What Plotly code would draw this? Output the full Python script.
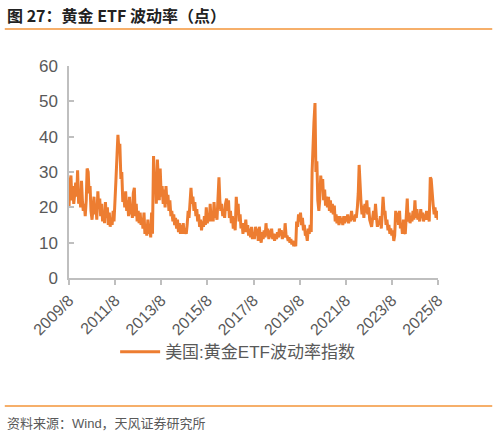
import pandas as pd
import plotly.graph_objects as go

# ── 数据：美国黄金ETF波动率指数（半月度，按图读取）──
dates = pd.date_range("2009-08-01", "2025-08-01", freq="SMS")

gvz = [
    # 2009/8 - 2010/7
    20, 27, 29, 22, 26, 21, 24, 27, 23, 30.5, 21, 25, 20, 27.5, 22, 19, 21, 17.5, 22, 31, 30, 24, 26, 19,
    # 2010/8 - 2011/7
    16.5, 20, 23, 18, 21, 16.5, 24.5, 20, 22.5, 17.5, 21, 16, 19, 15.5, 21.5, 17, 20, 15, 18.5, 14.5, 17, 15, 19, 16,
    # 2011/8 - 2012/7
    21, 28, 35, 40.5, 36, 38, 28, 30, 21.5, 24, 20, 24.5, 19, 22, 17.5, 23, 18, 20, 17, 24, 25.5, 17.5, 21, 16,
    # 2012/8 - 2013/7
    19, 15.5, 18.5, 15, 17, 14, 18.5, 12.5, 15, 12, 16.5, 12.5, 14.5, 11.5, 18.5, 12.5, 34.5, 27, 30, 21, 33.5, 27, 22, 31,
    # 2013/8 - 2014/7
    23, 26, 21, 25, 20, 26, 21, 23.5, 19, 22, 17.5, 19, 16, 18, 15, 17, 14, 16.5, 13, 15.5, 12.5, 15, 12.5, 15.5,
    # 2014/8 - 2015/7
    12.5, 14, 12.5, 15, 19, 17, 22, 25.5, 21, 23, 19, 21.5, 17.5, 19.5, 16, 18, 14.5, 16.5, 13.5, 16, 14.5, 17.5, 15, 20,
    # 2015/8 - 2016/7
    15.5, 18, 16, 21, 16, 19, 16, 21.5, 17, 19, 16.5, 22, 28.5, 22, 19, 21, 17.5, 19.5, 17, 21, 22.5, 19, 22, 17,
    # 2016/8 - 2017/7
    19, 15.5, 17.5, 14, 16, 13.5, 23, 19, 21, 16, 18, 14, 15.5, 12.5, 15.5, 13, 16.5, 13, 15, 12, 14, 11.5, 14.5, 11,
    # 2017/8 - 2018/7
    13, 11, 14.5, 12, 14, 10.5, 14.5, 12, 10, 13, 11, 13.5, 11.5, 15.5, 12, 14, 11, 13.5, 11.5, 14, 11, 12.5, 10.5, 12.5,
    # 2018/8 - 2019/7
    11, 13, 11.5, 14, 12, 13.5, 11, 13, 11.5, 15.5, 11.5, 12, 10.5, 11.5, 10, 11, 9.5, 10.5, 9, 10, 9, 16, 14.5, 18,
    # 2019/8 - 2020/7
    16, 18.5, 15, 17, 13.5, 15, 12, 12.5, 10.5, 14, 12.5, 15, 13, 30, 40, 44, 49.5, 30, 33, 22, 19, 22, 29, 26,
    # 2020/8 - 2021/7
    28, 22, 25, 20.5, 23, 20, 23, 19, 22, 18.5, 21, 18, 20.5, 16, 18, 15.5, 17.5, 15, 17.5, 15.5, 17, 15, 17.5, 15.5,
    # 2021/8 - 2022/7
    17.5, 16, 18, 15.5, 17, 16, 19, 16.5, 17.5, 16, 18, 17, 20, 24, 32, 25, 21, 18, 20.5, 17, 21, 18.5, 22, 18,
    # 2022/8 - 2023/7
    20, 16.5, 15, 14.5, 17, 19, 16.5, 21, 17, 14.5, 16, 15, 17.5, 14, 18, 23, 18, 19, 15, 16.5, 13.5, 15, 12.5, 14,
    # 2023/8 - 2024/7
    12, 13.5, 10.5, 12, 19, 16, 18.5, 15, 19, 14, 15.5, 12.5, 16.5, 13, 12.5, 17, 22.5, 16, 18.5, 15.5, 17, 16, 19, 16.5,
    # 2024/8 - 2025/7
    22, 17, 19.5, 16.5, 18, 16, 19.5, 17, 18.5, 16, 18, 16.5, 19, 16.5, 18, 16, 28.5, 28, 22, 21, 18, 20, 17, 19,
    # 2025/8
    16.5,
]

tick_dates = ["2009-08-01", "2011-08-01", "2013-08-01", "2015-08-01", "2017-08-01",
              "2019-08-01", "2021-08-01", "2023-08-01", "2025-08-01"]
tick_text = ["2009/8", "2011/8", "2013/8", "2015/8", "2017/8",
             "2019/8", "2021/8", "2023/8", "2025/8"]

ORANGE = "#ED7D31"
RULE = "#F39438"
GREY = "#595959"
AXIS = "#BFBFBF"
FONT = "Liberation Sans, Noto Sans CJK SC, sans-serif"

fig = go.Figure()
fig.add_trace(go.Scatter(
    x=dates, y=gvz, mode="lines", name="美国:黄金ETF波动率指数",
    line=dict(color=ORANGE, width=3)
))

fig.update_layout(
    width=497, height=434,
    margin=dict(l=69, r=59, t=66, b=156),
    paper_bgcolor="white", plot_bgcolor="white",
    font=dict(family=FONT, color=GREY, size=15),
    showlegend=True,
    legend=dict(orientation="h", x=0.125, xanchor="left", y=-0.35, yanchor="middle",
                itemwidth=40, font=dict(size=17, color=GREY), bgcolor="rgba(0,0,0,0)"),
    xaxis=dict(
        type="date", range=["2009-08-01", "2025-08-01"],
        tickvals=tick_dates, ticktext=tick_text, tickangle=-45,
        showgrid=False, zeroline=False,
        showline=True, linecolor=AXIS, linewidth=1.5,
        ticks="outside", ticklen=5, tickcolor=AXIS, tickwidth=1.5,
        tickfont=dict(size=16, color=GREY)
    ),
    yaxis=dict(
        range=[0, 60], dtick=10, showgrid=False, zeroline=False,
        showline=True, linecolor=AXIS, linewidth=1.5,
        ticks="inside", ticklen=5, tickcolor=AXIS, tickwidth=1.5,
        tickfont=dict(size=17, color=GREY), ticklabelstandoff=6
    ),
)

# 标题、分隔线、资料来源
fig.add_annotation(text="<b>图 27：黄金 ETF 波动率（点）</b>", xref="paper", yref="paper",
                   x=-0.174, y=1.241, xanchor="left", yanchor="middle", showarrow=False,
                   font=dict(family="Noto Sans CJK SC", size=16, color="#222222"))
fig.add_shape(type="line", xref="paper", yref="paper", x0=-0.174, x1=1.147, y0=1.175, y1=1.175,
              line=dict(color=RULE, width=1.5))
fig.add_shape(type="line", xref="paper", yref="paper", x0=-0.174, x1=1.147, y0=-0.604, y1=-0.604,
              line=dict(color=RULE, width=1.5))
fig.add_annotation(text="资料来源：Wind，天风证券研究所", xref="paper", yref="paper",
                   x=-0.174, y=-0.684, xanchor="left", yanchor="middle", showarrow=False,
                   font=dict(family=FONT, size=13, color=GREY))

# 去掉页面默认边距，让图表贴齐窗口左上角
fig.write_html("out.html", config={"displayModeBar": False},
               post_script="document.body.style.margin='0';")
